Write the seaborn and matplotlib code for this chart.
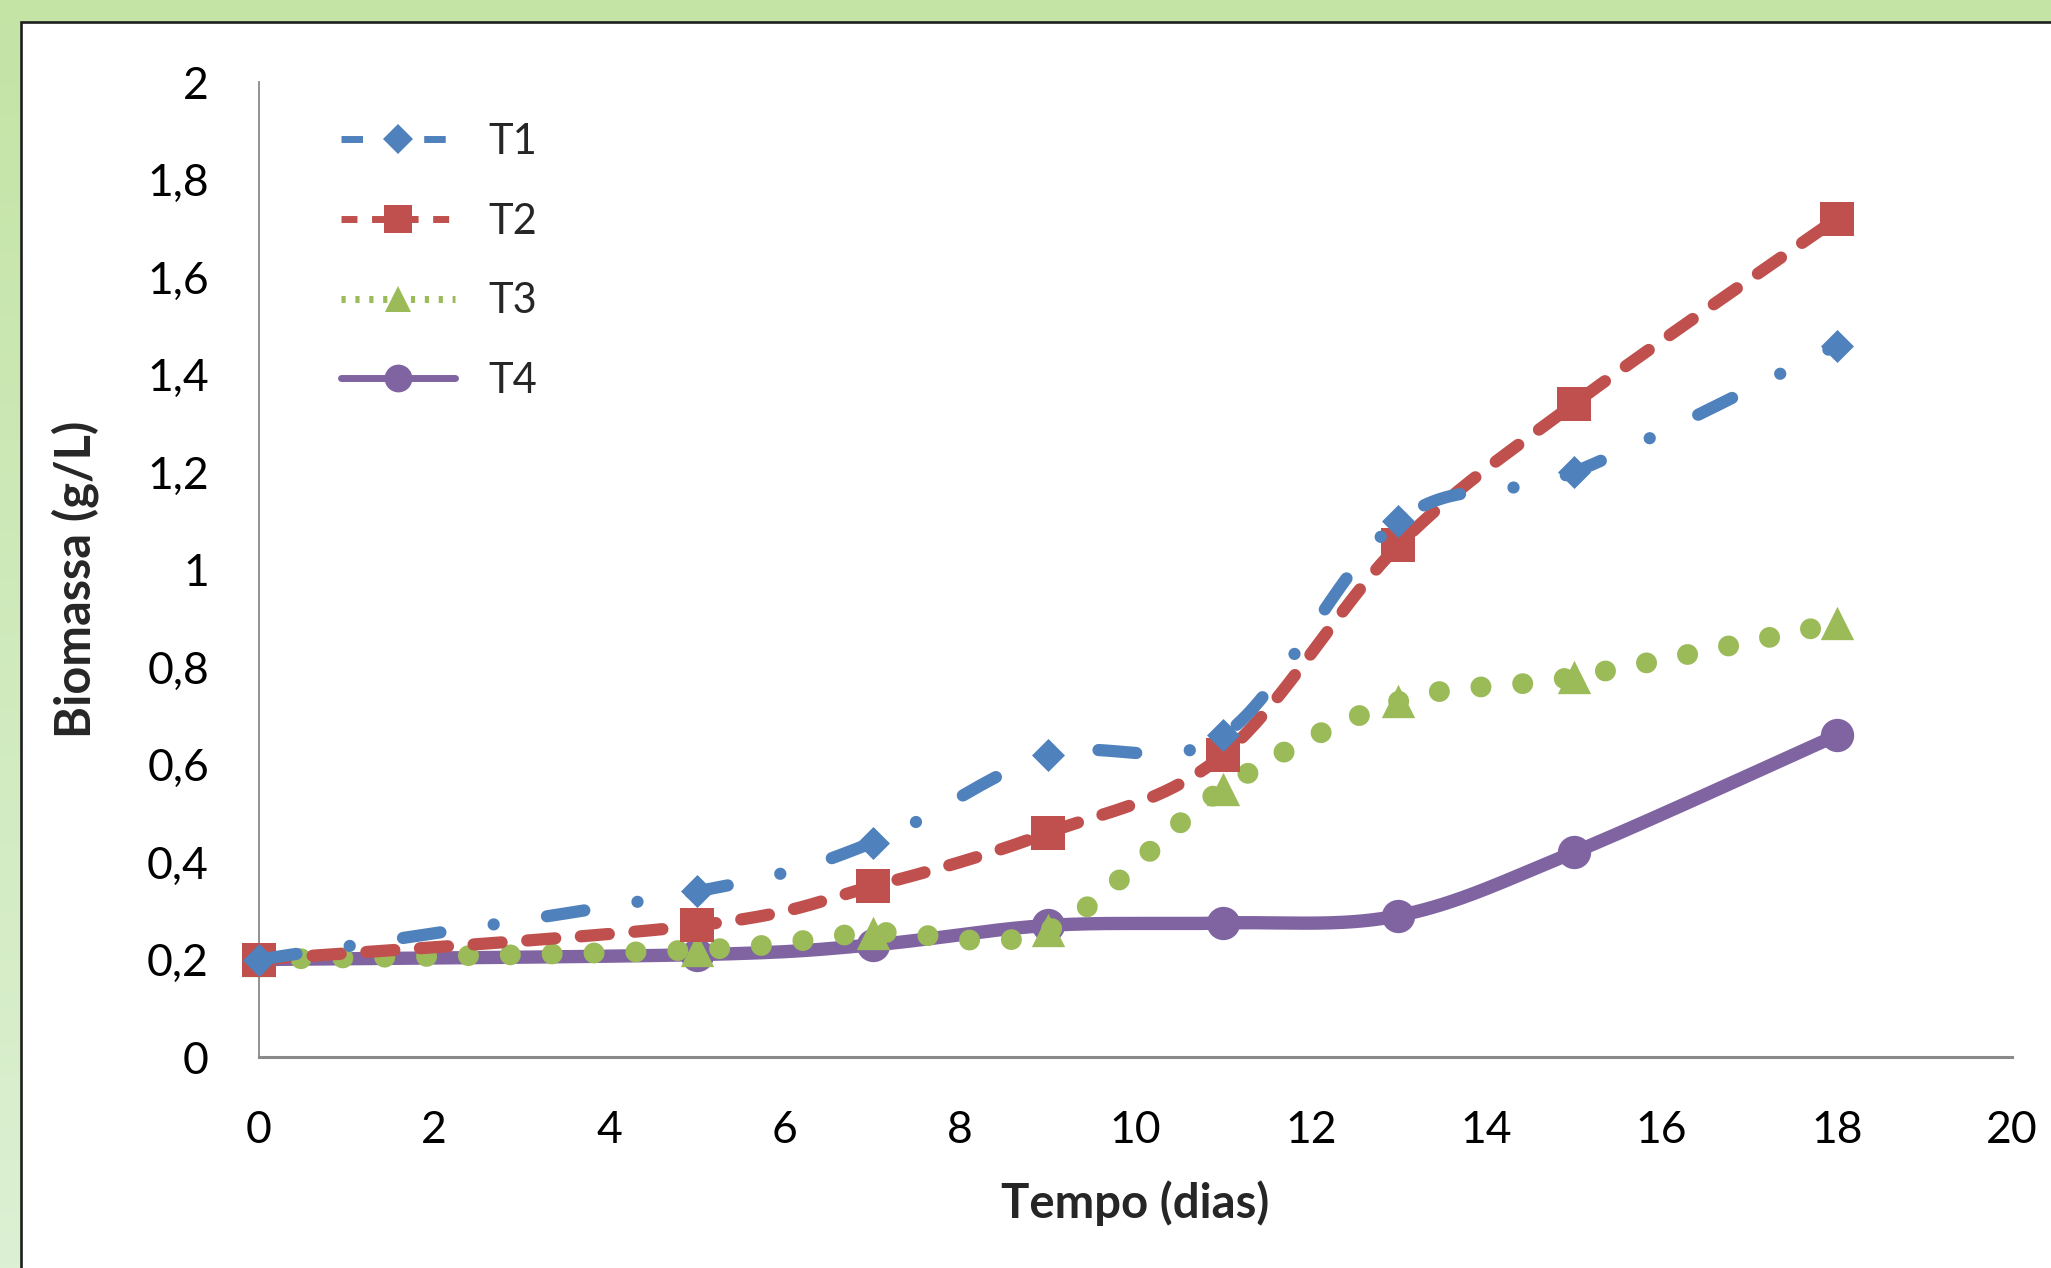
import numpy as np
import matplotlib
matplotlib.use("Agg")
import matplotlib.pyplot as plt
from matplotlib.lines import Line2D
from matplotlib.patches import Rectangle
import seaborn as sns

# ---------------- data ----------------
days = [0, 5, 7, 9, 11, 13, 15, 18]
t1 = [0.20, 0.34, 0.44, 0.62, 0.66, 1.10, 1.20, 1.46]
t2 = [0.20, 0.27, 0.35, 0.46, 0.62, 1.05, 1.34, 1.72]
t3 = [0.20, 0.22, 0.255, 0.26, 0.55, 0.73, 0.78, 0.89]
t4 = [0.20, 0.21, 0.23, 0.27, 0.275, 0.29, 0.42, 0.66]
series_names = ["T1", "T2", "T3", "T4"]
x_ticks = [0, 2, 4, 6, 8, 10, 12, 14, 16, 18, 20]
y_ticks = [0, 0.2, 0.4, 0.6, 0.8, 1.0, 1.2, 1.4, 1.6, 1.8, 2.0]
y_ticklabels = ["0", "0,2", "0,4", "0,6", "0,8", "1", "1,2", "1,4", "1,6", "1,8", "2"]
x_label = "Tempo (dias)"
y_label = "Biomassa (g/L)"

sns.set_theme(style="white")
plt.rcParams["font.family"] = ["Lato", "DejaVu Sans"]


def smooth_curve(x, y, n=40):
    """Excel-like smoothed line: cubic Bezier segments with Catmull-Rom control points."""
    p = np.column_stack([np.asarray(x, float), np.asarray(y, float)])
    ext = np.vstack([p[0], p, p[-1]])
    out = []
    t = np.linspace(0, 1, n)[:, None]
    for i in range(len(p) - 1):
        p0, p1 = ext[i + 1], ext[i + 2]
        c1 = p0 + (ext[i + 2] - ext[i]) / 6.0
        c2 = p1 - (ext[i + 3] - ext[i + 1]) / 6.0
        seg = ((1 - t) ** 3) * p0 + 3 * ((1 - t) ** 2) * t * c1 + 3 * (1 - t) * t ** 2 * c2 + t ** 3 * p1
        out.append(seg if i == 0 else seg[1:])
    seg = np.vstack(out)
    return seg[:, 0], seg[:, 1]


W, H = 2051, 1268
fig = plt.figure(figsize=(W / 100, H / 100), dpi=100)

# background: green gradient frame + white chart area with dark border
bg = fig.add_axes([0, 0, 1, 1], zorder=-10)
grad = np.linspace(0, 1, 256)[:, None]
top_c = np.array([0xC3, 0xE4, 0xA5]) / 255
bot_c = np.array([0xDC, 0xF0, 0xD3]) / 255
img = (top_c[None, None, :] * (1 - grad[:, :, None]) + bot_c[None, None, :] * grad[:, :, None])
bg.imshow(img, aspect="auto", extent=[0, 1, 0, 1], origin="upper")
bg.add_patch(Rectangle((21 / W, -0.2), 1.2, 1 - 22 / H + 0.2, facecolor="white",
                       edgecolor="#1e1e1e", lw=1.9, zorder=2))
bg.set_xlim(0, 1)
bg.set_ylim(0, 1)
bg.axis("off")

ax = fig.add_axes([259 / W, 1 - 1057 / H, (2012 - 259) / W, (1057 - 82.4) / H], zorder=1)
ax.set_facecolor("none")

blue, red, green, purple = "#4F81BD", "#C0504D", "#9BBB59", "#8064A2"

specs = [
    # name, data, color, lw(pt), dash, marker, marker size(pt), legend marker size, zorder
    ("T4", t4, purple, 9.6, "-", "o", 24, 20, 3),
    ("T3", t3, green, 15.0, (0, (0.01, 2.0)), "^", 24, 19, 4),
    ("T2", t2, red, 8.8, (0, (2.3, 2.1)), "s", 24, 20, 5),
    ("T1", t1, blue, 8.8, (0, (3.1, 4.4, 0.01, 4.4)), "D", 16.8, 15, 6),
]

handles = {}
for name, vals, col, lw, ls, mk, ms, lms, z in specs:
    sx, sy = smooth_curve(days, vals)
    sns.lineplot(x=sx, y=sy, ax=ax, color=col, linewidth=lw, linestyle=ls,
                 dash_capstyle="round", solid_capstyle="round", sort=False,
                 estimator=None, zorder=z, clip_on=False)
    sns.scatterplot(x=days, y=vals, ax=ax, color=col, marker=mk, s=ms ** 2,
                    linewidth=0, edgecolor=col, zorder=z + 0.5, clip_on=False)
    leg_ls = ls
    if name == "T3":
        leg_ls = (0, (0.6, 1.4))
    handles[name] = Line2D([], [], color=col, lw=5.0, linestyle=leg_ls,
                           dash_capstyle="butt", marker=mk, markersize=lms,
                           markerfacecolor=col, markeredgecolor=col, markeredgewidth=0)

ax.set_xlim(0, 20)
ax.set_ylim(0, 2)
ax.set_xticks(x_ticks)
ax.set_xticklabels([str(v) for v in x_ticks])
ax.set_yticks(y_ticks)
ax.set_yticklabels(y_ticklabels)
ax.tick_params(axis="both", length=0, labelsize=32, colors="black")
ax.tick_params(axis="y", pad=36)
ax.tick_params(axis="x", pad=38)

for s in ["top", "right"]:
    ax.spines[s].set_visible(False)
ax.spines["left"].set_color("#8a8a8a")
ax.spines["left"].set_linewidth(1.3)
ax.spines["bottom"].set_color("#8a8a8a")
ax.spines["bottom"].set_linewidth(2.2)

ax.set_xlabel(x_label, fontsize=34, fontweight="bold")
ax.set_ylabel(y_label, fontsize=35, fontweight="bold")
ax.xaxis.set_label_coords(0.5, -0.127)
ax.yaxis.set_label_coords(-0.091, 0.49)

leg = fig.legend([handles[n] for n in series_names], series_names,
                 loc="upper left", bbox_to_anchor=(341 / W, 1 - 123 / H),
                 frameon=False, fontsize=30, handlelength=2.73, handletextpad=0.8,
                 labelspacing=1.0, borderpad=0, borderaxespad=0, numpoints=1)
leg.set_zorder(20)

fig.savefig("out.png", dpi=100)
